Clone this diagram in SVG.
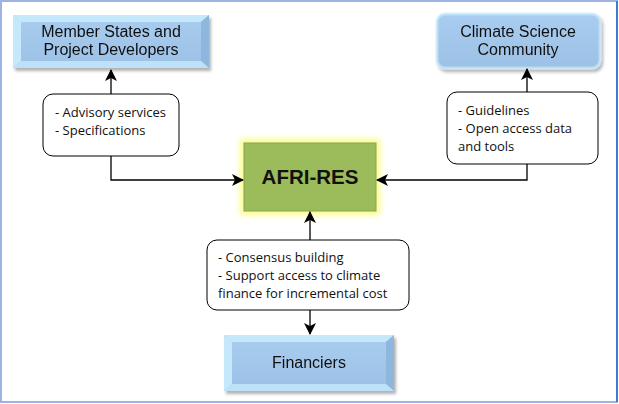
<svg xmlns="http://www.w3.org/2000/svg" width="619" height="404" viewBox="0 0 619 404">
<defs>
<marker id="ah" viewBox="0 0 12 12" refX="11" refY="6" markerWidth="12" markerHeight="12" markerUnits="userSpaceOnUse" orient="auto">
<path d="M0,0 L12,6 L0,12 L3,6 Z" fill="#000"/>
</marker>
<linearGradient id="blue" x1="0" y1="0" x2="0" y2="1">
<stop offset="0" stop-color="#a9cdf0"/>
<stop offset="1" stop-color="#9cc1e6"/>
</linearGradient>
<filter id="sh" x="-10%" y="-10%" width="130%" height="140%">
<feDropShadow dx="2" dy="3" stdDeviation="1.5" flood-color="#000" flood-opacity="0.3"/>
</filter>
<filter id="glow" x="-20%" y="-20%" width="140%" height="140%">
<feGaussianBlur stdDeviation="3"/>
</filter>
</defs>
<style>
.bt{font-family:"Liberation Sans",Arial,sans-serif;font-size:16px;fill:#111;text-anchor:middle}
.lt{font-family:"Open Sans","DejaVu Sans",sans-serif;font-size:13px;fill:#111}
.lbl{fill:#fff;stroke:#000;stroke-width:1}
.con{fill:none;stroke:#000;stroke-width:1.3}
.bev1{fill:#c6e8fb}
.bev2{fill:#8fb6dc}
</style>
<rect x="0" y="0" width="619" height="404" fill="#fff"/>
<rect x="1" y="1" width="616" height="401" fill="none" stroke="#9db3e3" stroke-width="2"/>
<line x1="617" y1="1" x2="617" y2="402" stroke="#3d7bd6" stroke-width="2"/>

<g id="member-states" filter="url(#sh)">
<rect x="13" y="15" width="196" height="53" fill="url(#blue)"/>
<polygon class="bev1" points="13,15 209,15 201,22 21,22"/>
<polygon class="bev1" points="13,15 21,22 21,61 13,68"/>
<polygon class="bev2" points="209,15 209,68 201,61 201,22"/>
<polygon class="bev1" points="13,68 209,68 201,61 21,61" opacity="0.8"/>
<text class="bt" x="111" y="37">Member States and</text>
<text class="bt" x="111" y="55">Project Developers</text>
</g>

<g id="climate-science" filter="url(#sh)">
<rect x="437" y="14" width="163" height="54" rx="8" fill="url(#blue)"/>
<rect x="437" y="14" width="163" height="54" rx="8" fill="none" stroke="#c6e8fb" stroke-width="3" opacity="0.7"/>
<text class="bt" x="518" y="37">Climate Science</text>
<text class="bt" x="518" y="55">Community</text>
</g>

<g id="afri-res">
<rect x="240" y="139" width="140" height="76" fill="#fbfb8a" filter="url(#glow)"/>
<rect x="244" y="143" width="132" height="68" fill="#9cbb5a" stroke="#86a84a" stroke-width="1"/>
<text x="310" y="184" font-family="'Liberation Sans',Arial,sans-serif" font-size="20.5" font-weight="bold" text-anchor="middle" fill="#111">AFRI-RES</text>
</g>

<g id="financiers" filter="url(#sh)">
<rect x="224" y="335" width="170" height="56" fill="url(#blue)"/>
<polygon class="bev1" points="224,335 394,335 386,342 232,342"/>
<polygon class="bev1" points="224,335 232,342 232,384 224,391"/>
<polygon class="bev2" points="394,335 394,391 386,384 386,342"/>
<polygon class="bev1" points="224,391 394,391 386,384 232,384" opacity="0.8"/>
<text class="bt" x="309" y="368">Financiers</text>
</g>

<g id="advisory">
<rect class="lbl" x="43" y="94" width="136" height="62" rx="10"/>
<text class="lt" x="55" y="117">- Advisory services</text>
<text class="lt" x="55" y="135">- Specifications</text>
</g>

<g id="guidelines">
<rect class="lbl" x="447" y="92" width="151" height="72" rx="10"/>
<text class="lt" x="458" y="115">- Guidelines</text>
<text class="lt" x="458" y="133">- Open access data</text>
<text class="lt" x="458" y="151">and tools</text>
</g>

<g id="consensus">
<rect class="lbl" x="207" y="240" width="202" height="70" rx="10"/>
<text class="lt" x="218" y="262">- Consensus building</text>
<text class="lt" x="218" y="280">- Support access to climate</text>
<text class="lt" x="218" y="298">finance for incremental cost</text>
</g>

<g id="connectors">
<path class="con" d="M111,94 L111,70" marker-end="url(#ah)"/>
<path class="con" d="M111,156 L111,180 L243,180" marker-end="url(#ah)"/>
<path class="con" d="M527,92 L527,69" marker-end="url(#ah)"/>
<path class="con" d="M527,164 L527,180 L377,180" marker-end="url(#ah)"/>
<path class="con" d="M310,240 L310,212" marker-end="url(#ah)"/>
<path class="con" d="M310,310 L310,334" marker-end="url(#ah)"/>
</g>
</svg>
